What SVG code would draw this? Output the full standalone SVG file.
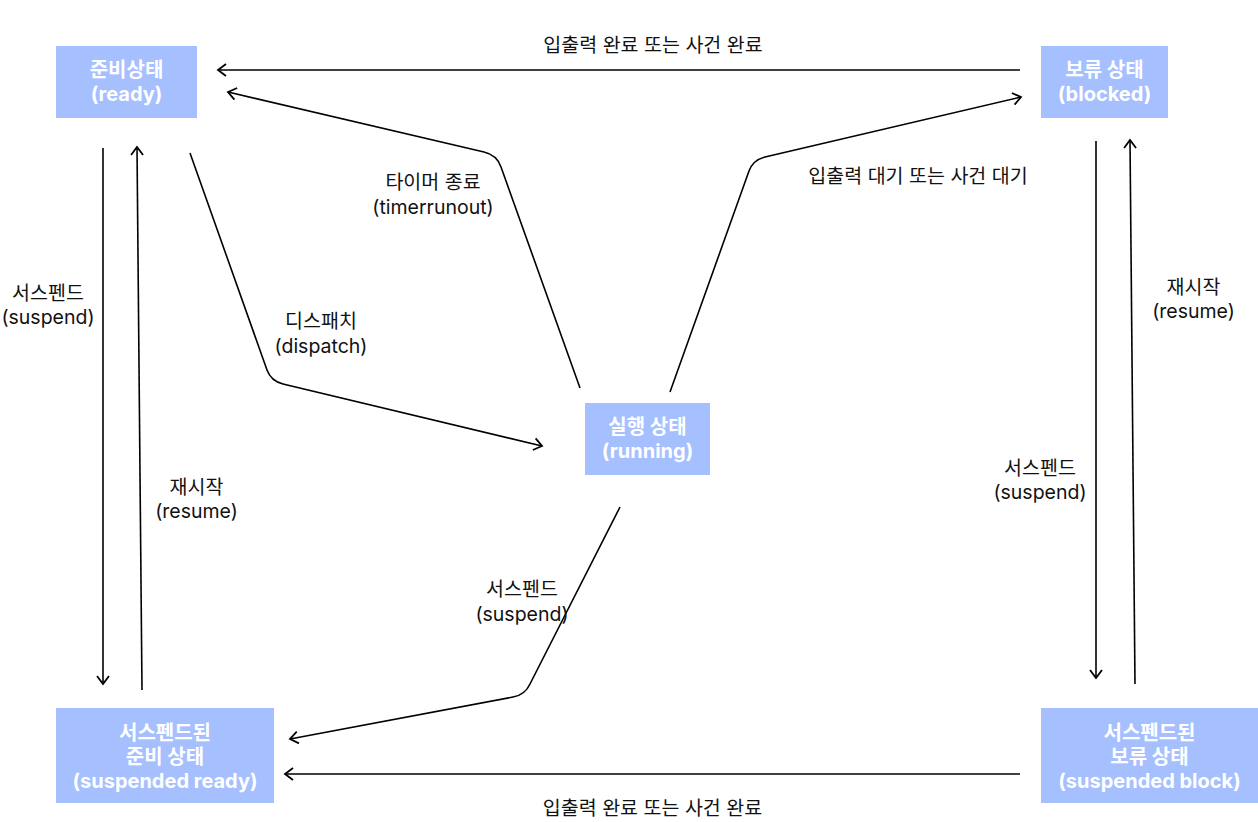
<svg xmlns="http://www.w3.org/2000/svg" width="1258" height="822" viewBox="0 0 1258 822">
<defs>
<style>
.node rect{fill:#a5bfff}
.node text{fill:#ffffff;font-family:Inter,"Noto Sans CJK KR",sans-serif;font-weight:700;font-size:20px;text-anchor:middle}
.lbl{fill:#111111;font-family:Inter,"Noto Sans CJK KR",sans-serif;font-size:19.5px;text-anchor:middle}
.conn path{fill:none;stroke:#000000;stroke-width:1.6;marker-end:url(#arr)}
</style>
<marker id="arr" markerUnits="userSpaceOnUse" viewBox="-10 -7 12 14" refX="0" refY="0" markerWidth="12" markerHeight="14" orient="auto">
<path d="M-8,-6 L0,0 L-8,6" fill="none" stroke="#000000" stroke-width="1.8"/>
</marker>
</defs>
<rect width="1258" height="822" fill="#ffffff"/>
<g id="connectors" class="conn">
<path d="M1020,70 L218,70"/>
<path d="M580,388 L501,167 Q497,155 484,152 L228,92"/>
<path d="M190,153 L267,370 Q271,381 283,384 L542,446"/>
<path d="M670,392 L749,171 Q753,160 765,157 L1021,97"/>
<path d="M620,507 L530,684 Q525,695 513,697 L290,739"/>
<path d="M103,148 L103,684"/>
<path d="M142,690 L137,147"/>
<path d="M1020,774 L285,774"/>
<path d="M1096,141 L1096,678"/>
<path d="M1135,684 L1130,140"/>
</g>
<g id="labels">
<text class="lbl" x="653" y="52">입출력 완료 또는 사건 완료</text>
<text class="lbl" x="433" y="189">타이머 종료</text>
<text class="lbl" x="433" y="214">(timerrunout)</text>
<text class="lbl" x="321" y="328">디스패치</text>
<text class="lbl" x="321" y="353">(dispatch)</text>
<text class="lbl" x="918" y="183">입출력 대기 또는 사건 대기</text>
<text class="lbl" x="522" y="596">서스펜드</text>
<text class="lbl" x="522" y="621">(suspend)</text>
<text class="lbl" x="48" y="300">서스펜드</text>
<text class="lbl" x="48" y="324">(suspend)</text>
<text class="lbl" x="196.5" y="494">재시작</text>
<text class="lbl" x="196.5" y="518">(resume)</text>
<text class="lbl" x="1040" y="475">서스펜드</text>
<text class="lbl" x="1040" y="499">(suspend)</text>
<text class="lbl" x="1193.5" y="294">재시작</text>
<text class="lbl" x="1193.5" y="318">(resume)</text>
<text class="lbl" x="652.5" y="815">입출력 완료 또는 사건 완료</text>
</g>
<g id="ready" class="node">
<rect x="56" y="46" width="141" height="72"/>
<text x="126.5" y="77">준비상태</text>
<text x="126.5" y="101">(ready)</text>
</g>
<g id="blocked" class="node">
<rect x="1041" y="46" width="127" height="72"/>
<text x="1104.5" y="77">보류 상태</text>
<text x="1104.5" y="101">(blocked)</text>
</g>
<g id="running" class="node">
<rect x="585" y="403" width="125" height="72"/>
<text x="647.5" y="434">실행 상태</text>
<text x="647.5" y="458">(running)</text>
</g>
<g id="suspended-ready" class="node">
<rect x="56" y="708" width="218" height="95"/>
<text x="165" y="740">서스펜드된</text>
<text x="165" y="764">준비 상태</text>
<text x="165" y="788">(suspended ready)</text>
</g>
<g id="suspended-block" class="node">
<rect x="1041" y="708" width="217" height="95"/>
<text x="1149.5" y="740">서스펜드된</text>
<text x="1149.5" y="764">보류 상태</text>
<text x="1149.5" y="788">(suspended block)</text>
</g>
</svg>
